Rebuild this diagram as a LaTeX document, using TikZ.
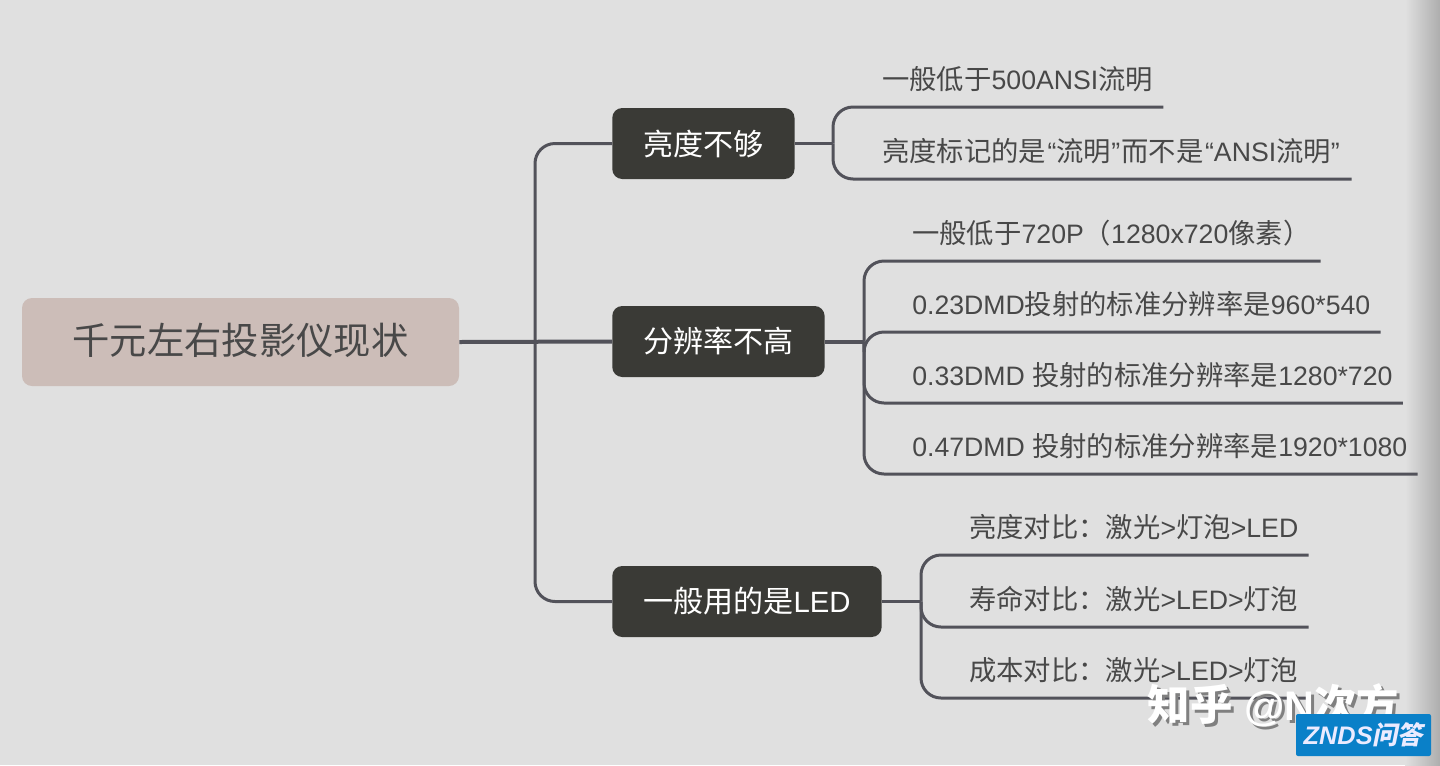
\documentclass[tikz,border=0pt]{standalone}
\usepackage{xcolor}
\usepackage{fontspec}
\setmainfont{Liberation Sans}
\newfontfamily\cjk[Scale=1.025]{Noto Sans CJK SC}
\newfontfamily\cjkslant[FakeSlant=0.2]{Noto Sans CJK SC}
\newcommand{\zh}[1]{{\cjk #1}}
\newcommand{\ql}{\kern1.1pt“}
\newcommand{\qr}{”\kern1.1pt}
\definecolor{pagegrey}{RGB}{224,224,224}
\definecolor{rootfill}{RGB}{204,189,184}
\definecolor{boxfill}{RGB}{58,58,54}
\definecolor{linegrey}{RGB}{82,82,90}
\definecolor{textgrey}{RGB}{72,72,72}
\definecolor{zndsblue}{RGB}{10,128,200}
\tikzset{
  rootbox/.style={fill=rootfill,rounded corners=7.5pt,text=textgrey,font=\fontsize{27.3}{32}\selectfont,minimum width=327.75pt,minimum height=66pt,inner sep=0pt,text height=24pt,text depth=6pt},
  branchbox/.style={fill=boxfill,rounded corners=7.5pt,text=white,font=\fontsize{22}{27}\selectfont,minimum height=53.25pt,inner xsep=23.25pt,inner ysep=0pt,anchor=west},
  leaftext/.style={anchor=south west,text=textgrey,font=\fontsize{20}{24}\selectfont,inner xsep=7.5pt,inner ysep=0pt,text height=16pt,text depth=13pt},
  link/.style={draw=linegrey,line width=2.25pt,rounded corners=15pt},
  mainlink/.style={link,line width=3pt},
  marktext/.style={anchor=center,font=\fontsize{31}{36}\selectfont\bfseries},
}
\begin{document}
\begin{tikzpicture}[x=0.75pt,y=0.75pt,yscale=-1,xscale=1]
\useasboundingbox (0,0) rectangle (1440,765);
%Background
\fill[pagegrey] (0,0) rectangle (1440,765);
\shade[left color=pagegrey,right color=black!32] (1405,0) rectangle (1440,765);

% Text Node
\node[rootbox] (root) at (240.5,342) {\zh{千元左右投影仪现状}};
\node[branchbox] (bright) at (612,143.5) {\zh{亮度不够}};
\node[branchbox] (resol) at (612,341.5) {\zh{分辨率不高}};
\node[branchbox] (lamp) at (612,601.5) {\zh{一般用的是}LED};

\node[leaftext] (b1) at (872,107) {\zh{一般低于}500ANSI\zh{流明}};
\node[leaftext] (b2) at (872,179) {\zh{亮度标记的是}\ql\zh{流明}\qr\zh{而不是}\ql ANSI\zh{流明}\qr};

\node[leaftext] (r1) at (902,261) {\zh{一般低于}720P\zh{（}1280x720\zh{像素）}};
\node[leaftext] (r2) at (902,332) {0.23DMD\zh{投射的标准分辨率是}960*540};
\node[leaftext] (r3) at (902,403) {0.33DMD \zh{投射的标准分辨率是}1280*720};
\node[leaftext] (r4) at (902,474) {0.47DMD \zh{投射的标准分辨率是}1920*1080};

\node[leaftext] (l1) at (959,555) {\zh{亮度对比：激光}>\zh{灯泡}>LED};
\node[leaftext] (l2) at (959,627) {\zh{寿命对比：激光}>LED>\zh{灯泡}};
\node[leaftext] (l3) at (959,698) {\zh{成本对比：激光}>LED>\zh{灯泡}};

\coordinate (trunk) at (535,341.5);
\coordinate (forkb) at (833,143.5);
\coordinate (forkr) at (864,341.5);
\coordinate (forkl) at (921,601.5);

%Straight Lines
\draw[mainlink] (root.east) -- (resol.west);
\draw[link] (trunk) |- (bright.west);
\draw[link] (trunk) |- (lamp.west);

\draw[link] (bright.east) -- (forkb);
\draw[link] (forkb) |- (b1.south east);
\draw[link] (forkb) |- (b2.south east);

\draw[mainlink] (resol.east) -- (forkr);
\draw[link] (forkr) |- (r1.south east);
\draw[link] (forkr) |- (r2.south east);
\draw[link] (forkr) |- (r3.south east);
\draw[link] (forkr) |- (r4.south east);

\draw[link] (lamp.east) -- (forkl);
\draw[link] (forkl) |- (l1.south east);
\draw[link] (forkl) |- (l2.south east);
\draw[link] (forkl) |- (l3.south east);

% Text Node
\node[marktext,text=black!50] (markshadow) at (1276.5,708.5) {\zh{知乎} @N\zh{次方}};
\node[marktext,text=white] (mark) at (1273.5,705.5) {\zh{知乎} @N\zh{次方}};
\node[fill=zndsblue,rounded corners=1.5pt,text=blue!8!white,font=\fontsize{19}{22}\selectfont\bfseries\itshape,minimum width=101.25pt,minimum height=31.5pt,inner sep=0pt] (znds) at (1363.5,735) {ZNDS{\cjkslant 问答}};
\end{tikzpicture}
\end{document}
